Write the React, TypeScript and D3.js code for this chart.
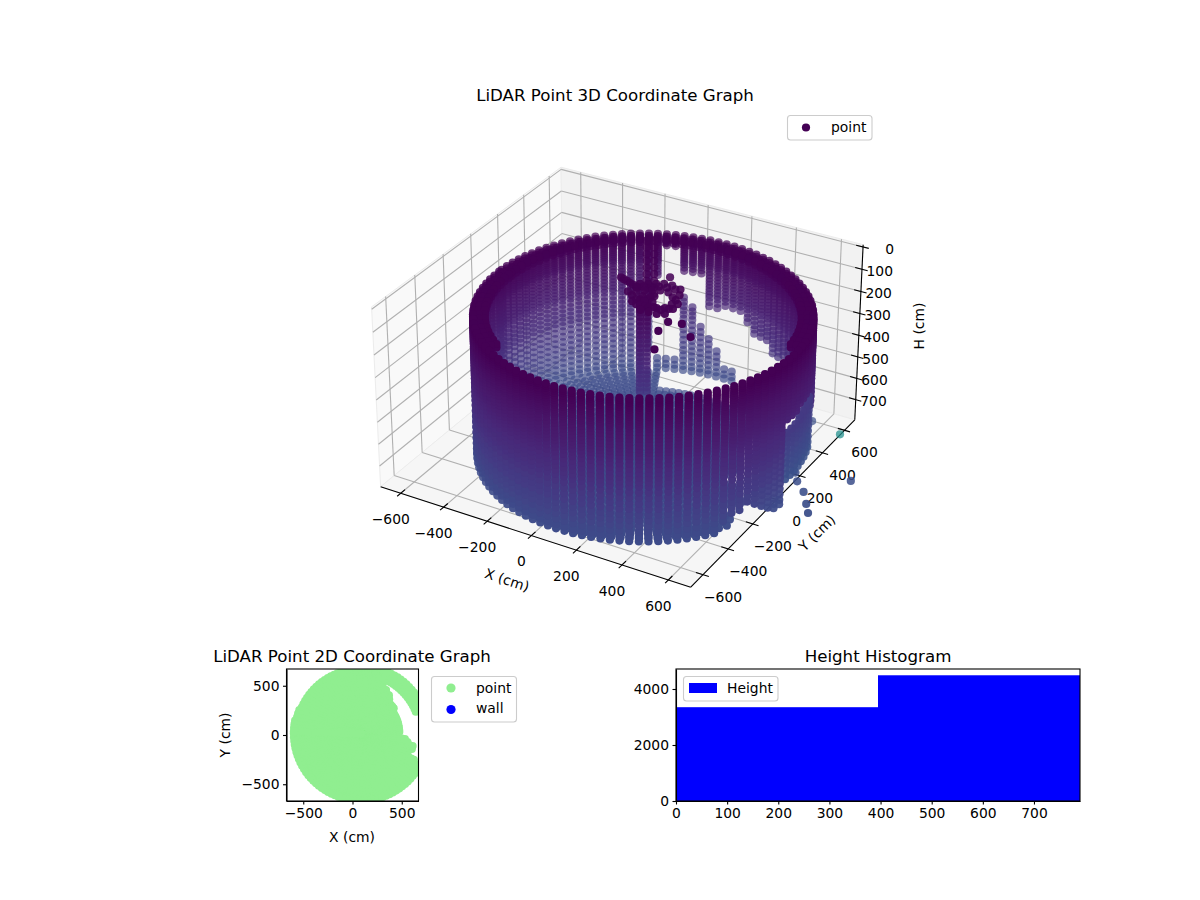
import { useEffect, useRef } from "react"
import * as d3 from "d3"

// scan columns of the wall, degrees round the scanner
const azimuths = [
  -180, -176.8, -173.6, -170.4, -167.2, -164, -160.8, -157.6, -154.4, -151.2,
  -148, -144.8, -141.6, -138.4, -135.2, -132, -128.8, -125.6, -122.4, -119.2,
  -116, -112.8, -109.6, -106.4, -103.2, -100, -96.8, -93.6, -90.4, -87.2,
  -84, -80.8, -77.6, -74.4, -71.2, -68, -64.8, -61.6, -58.4, -55.2,
  -52, -48.8, -45.6, -42.4, -39.2, -36, -32.8, -29.6, -26.4, -23.2,
  -20, -16.8, -13.6, -10.4, -7.2, -4, -0.8, 2.4, 5.6, 8.8,
  12, 15.2, 18.4, 21.6, 24.8, 28, 31.2, 34.4, 37.6, 40.8,
  44, 47.2, 50.4, 53.6, 56.8, 60, 63.2, 66.4, 69.6, 72.8,
  76, 79.2, 82.4, 85.6, 88.8, 92, 95.2, 98.4, 101.6, 104.8,
  108, 111.2, 114.4, 117.6, 120.8, 124, 127.2, 130.4, 133.6, 136.8,
  140, 143.2, 146.4, 149.6, 152.8, 156, 159.2, 162.4, 165.6, 168.8,
  172, 175.2, 178.4,
]

// scan rows bunch up near the top of the wall
const rowHeights = [
  135, 145, 155, 165, 175, 185, 195, 205, 215, 225, 235, 245, 255, 265, 280, 295, 310, 325, 340, 355, 370, 385, 400,
  420, 440, 460, 480, 500, 520, 545, 570, 595, 620, 645, 670, 695, 720, 745, 765,
]

// lowest height reached per column
const wallBottom = [
  765, 765, 765, 765, 765, 765, 765, 765, 765, 765,
  765, 765, 765, 765, 765, 765, 765, 765, 765, 765,
  765, 765, 765, 765, 765, 765, 765, 765, 765, 765,
  765, 765, 765, 765, 765, 765, 765, 765, 765, 765,
  765, 765, 765, 765, 765, 765, 740, 700, 695, 690,
  700, 720, 745, 765, 765, 690, 690, 690, 690, 690,
  690, 690, 690, 765, 765, 765, 765, 765, 765, 765,
  765, 765, 765, 765, 765, 765, 765, 765, 765, 765,
  765, 765, 765, 765, 765, 765, 765, 765, 765, 765,
  765, 765, 765, 765, 765, 765, 765, 765, 765, 765,
  765, 765, 765, 765, 765, 765, 765, 765, 765, 765,
  765, 765, 765,
]

// holes in each column: nothing between gapFrom and gapTo
const gapFrom = [
  999, 999, 999, 999, 999, 999, 999, 999, 999, 999,
  999, 999, 999, 999, 999, 999, 999, 999, 999, 999,
  999, 999, 999, 999, 999, 999, 999, 999, 999, 999,
  999, 999, 999, 999, 999, 999, 999, 999, 999, 999,
  999, 999, 999, 999, 999, 999, 999, 999, 999, 999,
  999, 999, 999, 999, 999, 410, 410, 410, 400, 400,
  400, 400, 400, 510, 510, 510, 510, 510, 510, 510,
  510, 540, 540, 540, 540, 540, 550, 550, 520, 520,
  520, 470, 440, 440, 440, 460, 460, 300, 300, 300,
  195, 195, 340, 680, 999, 999, 999, 999, 999, 999,
  999, 999, 999, 999, 999, 999, 999, 999, 999, 999,
  999, 999, 999,
]
const gapTo = [
  999, 999, 999, 999, 999, 999, 999, 999, 999, 999,
  999, 999, 999, 999, 999, 999, 999, 999, 999, 999,
  999, 999, 999, 999, 999, 999, 999, 999, 999, 999,
  999, 999, 999, 999, 999, 999, 999, 999, 999, 999,
  999, 999, 999, 999, 999, 999, 999, 999, 999, 999,
  999, 999, 999, 999, 999, 450, 450, 450, 440, 440,
  440, 440, 440, 999, 999, 999, 999, 999, 999, 999,
  999, 999, 999, 999, 999, 999, 999, 999, 999, 999,
  999, 999, 999, 720, 700, 640, 595, 530, 460, 420,
  700, 700, 720, 999, 999, 999, 999, 999, 999, 999,
  999, 999, 999, 999, 999, 999, 999, 999, 999, 999,
  999, 999, 999,
]

// thick ledge along the rim of the far half
const rimRadii = [615, 638]
const rimRows = [135, 150]

// mast, its ring and branch, stray returns inside the room
const ringX = [
  13.5, -1, 15.6, 47, 70, 101, 137, 154, 180, 191, 168, 133, 101, 63, 83, 51.5, 92.5, -98, -63, -27, 239, 292, 370, 298,
  241, 69, -6.5, 20.7, 48, 75.3, 110.5, 99.8, 135, 170, 197, 205, -16, 37, 173.6, 202, -80, -44.8, -8,
  11.4, 34.7, 62, 89.2, 124.5, 157.8, 182, 173.6, 146.5, 119, 80.4, 42.8, 78, 109.3,
]
const ringY = [
  53, 117, 136, 145, 167, 176, 178, 188, 104, 28, 6, 12, 3, -1, 75, 66, 90, 160, 145, 130, -63, -50, -123, -274, -143,
  257, 150.7, 166.5, 182, 198, 200, -33.4, -31, -29, -13.5, 36, 72.5, 12, 145.5, 79.5, 152, 137.8, 122,
  88.3, 110.7, 126.5, 142.2, 144.4, 118, 68, 27.3, 11.6, -4, 0.2, 34, 35.7, 44.6,
]
const mastX = [20.6, 44]
const mastY = [104, 118]
const mastRows = [140, 160, 180, 200, 220, 240, 260, 280, 300, 320, 340, 360, 380, 400, 420, 440, 460, 480, 500, 520, 540, 560]
const topMastX = [-66, -40]
const topMastY = [308, 323]
const topMastRows = [-4, 26, 56, 86, 116, 146, 176, 206, 236]

// returns from outside the wall
const strayX = [697, 890, 560, 772, 820, 855, 680, 715]
const strayY = [554, 258, 575, 79, 7, -47, 190, 136]
const strayH = [790, 790, 780, 780, 780, 780, 780, 780]
const strayC = [1500, 800, 800, 800, 800, 800, 800, 800]

// ground disc of the top view, how far it reaches per column
const floorRadii = [0, 30, 60, 90, 120, 150, 180, 210, 240, 270, 300, 330, 360, 390, 420, 450, 480, 510, 540, 570, 600, 630, 655, 668, 680]
const floorReach = [
  680, 680, 680, 680, 680, 680, 680, 680, 680, 680,
  680, 680, 680, 680, 680, 680, 680, 680, 680, 680,
  680, 680, 680, 680, 680, 680, 680, 680, 680, 680,
  680, 680, 680, 680, 680, 680, 680, 680, 680, 680,
  680, 680, 680, 680, 680, 680, 680, 680, 610, 520,
  530, 546, 540, 500, 460, 374, 385, 395, 400, 400,
  395, 392, 390, 391, 395, 400, 410, 415, 420, 425,
  430, 440, 460, 480, 495, 510, 525, 680, 680, 680,
  680, 680, 680, 680, 680, 670, 670, 670, 670, 670,
  660, 660, 660, 660, 660, 660, 660, 660, 660, 660,
  660, 660, 660, 660, 660, 660, 670, 670, 670, 680,
  680, 680, 680,
]
const FLOOR_HEIGHT = 770
const lobeRadii = [600, 640, 680]
const lobeAzimuths = [21.6, 24.8, 28, 31.2, 34.4, 37.6, 40.8, 44, 47.2, 50.4, 53.6, 56.8, 60, 63.2, 66.4]

const heightEdges = [0, 395, 790]
const heightCounts = [3350, 4490]

const xyTicks = [-600, -400, -200, 0, 200, 400, 600]
const hTicks = [0, 100, 200, 300, 400, 500, 600, 700]

const FONT = "'DejaVu Sans', sans-serif"
const WALL_CX = 85
const WALL_CY = 15
const WALL_R = 660

// same camera as the 3D axes: elev 30, azim -60, distance 10
const U = [0.866, 0.5, 0]
const V = [-0.25, 0.433, 0.866]
const W = [0.433, -0.75, 0.5]
const DIST = 10
const SCALE = 2835
const ORIGIN_X = 622.3
const ORIGIN_Y = 365.5

const boxX = d3.scaleLinear().domain([-695, 695]).range([-0.623, 0.623])
const boxY = d3.scaleLinear().domain([-695, 695]).range([-0.623, 0.623])
const boxZ = d3.scaleLinear().domain([796, -10]).range([-0.3613, 0.3613])

function project(x: number, y: number, h: number) {
  const p = [boxX(x), boxY(y), boxZ(h)]
  const dot = (a: number[]) => a[0] * p[0] + a[1] * p[1] + a[2] * p[2]
  const depth = DIST - dot(W)
  return { px: ORIGIN_X + (SCALE * dot(U)) / depth, py: ORIGIN_Y - (SCALE * dot(V)) / depth, depth }
}

const rad = (deg: number) => (deg * Math.PI) / 180
const polarX = (r: number, az: number) => WALL_CX + r * Math.cos(rad(az))
const polarY = (r: number, az: number) => WALL_CY + r * Math.sin(rad(az))

function scanPoints() {
  const pts: { x: number; y: number; h: number; c: number }[] = []
  azimuths.forEach((az, i) => {
    rowHeights.forEach((h) => {
      if (h > wallBottom[i]) return
      if (h >= gapFrom[i] && h < gapTo[i]) return
      // the low part under the side opening reads bluer
      const tint = gapTo[i] === 450 || gapTo[i] === 440 ? (h >= gapTo[i] ? 150 : 0) : 0
      pts.push({ x: polarX(WALL_R, az), y: polarY(WALL_R, az), h, c: h + tint })
    })
    if (az >= 5 || az <= -125) {
      rimRadii.forEach((r) => {
        rimRows.forEach((h) => pts.push({ x: polarX(r, az), y: polarY(r, az), h, c: h }))
      })
    }
    floorRadii.forEach((r) => {
      if (r > 640 || r > floorReach[i]) return
      if (az > 75 && az < 112 && r > 500) return
      pts.push({ x: polarX(r, az), y: polarY(r, az), h: FLOOR_HEIGHT, c: FLOOR_HEIGHT })
    })
  })
  ringX.forEach((x, i) => pts.push({ x, y: ringY[i], h: 100, c: 135 }))
  mastX.forEach((x, i) => {
    mastRows.forEach((h) => pts.push({ x, y: mastY[i], h, c: h }))
  })
  topMastX.forEach((x, i) => {
    topMastRows.forEach((h) => pts.push({ x, y: topMastY[i], h, c: 135 }))
  })
  strayX.forEach((x, i) => pts.push({ x, y: strayY[i], h: strayH[i], c: strayC[i] }))
  return pts
}

function legendBox(svg: any, x: number, y: number, w: number, h: number) {
  svg
    .append("rect")
    .attr("x", x)
    .attr("y", y)
    .attr("width", w)
    .attr("height", h)
    .attr("rx", 3)
    .attr("fill", "white")
    .attr("fill-opacity", 0.8)
    .attr("stroke", "#cccccc")
    .attr("stroke-width", 1.1)
}

function label(svg: any, x: number, y: number, text: string, size = 13.89, anchor = "middle", rotate = 0) {
  svg
    .append("text")
    .attr("transform", `translate(${x},${y}) rotate(${rotate})`)
    .attr("dy", "0.35em")
    .attr("text-anchor", anchor)
    .attr("font-family", FONT)
    .attr("font-size", size)
    .attr("fill", "black")
    .text(text)
}

function styleAxis(g: any) {
  g.selectAll("text").attr("font-family", FONT).attr("font-size", 13.89).attr("fill", "black")
  g.selectAll("line").attr("stroke", "black").attr("stroke-width", 1.1)
  g.selectAll("path").attr("stroke", "black").attr("stroke-width", 1.1)
}

function draw3D(svg: any) {
  const [xa, xb] = boxX.domain()
  const [ya, yb] = boxY.domain()
  const [zBottom, zTop] = boxZ.domain()

  const poly = (corners: number[][], fill: string) => {
    const ps = corners.map((c) => project(c[0], c[1], c[2]))
    svg
      .append("polygon")
      .attr("points", ps.map((p) => `${p.px},${p.py}`).join(" "))
      .attr("fill", fill)
      .attr("stroke", "#ececec")
      .attr("stroke-width", 1)
  }
  poly([[xa, ya, zBottom], [xa, yb, zBottom], [xa, yb, zTop], [xa, ya, zTop]], "#f9f9f9")
  poly([[xa, yb, zBottom], [xb, yb, zBottom], [xb, yb, zTop], [xa, yb, zTop]], "#f2f2f2")
  poly([[xa, ya, zBottom], [xb, ya, zBottom], [xb, yb, zBottom], [xa, yb, zBottom]], "#f6f6f6")

  const seg = (a: number[], b: number[], stroke: string, width = 1.1) => {
    const p = project(a[0], a[1], a[2])
    const q = project(b[0], b[1], b[2])
    svg
      .append("line")
      .attr("x1", p.px)
      .attr("y1", p.py)
      .attr("x2", q.px)
      .attr("y2", q.py)
      .attr("stroke", stroke)
      .attr("stroke-width", width)
  }

  // grid lines on the three panes
  xyTicks.forEach((t) => {
    seg([t, ya, zBottom], [t, yb, zBottom], "#b0b0b0")
    seg([t, yb, zBottom], [t, yb, zTop], "#b0b0b0")
    seg([xa, t, zBottom], [xb, t, zBottom], "#b0b0b0")
    seg([xa, t, zBottom], [xa, t, zTop], "#b0b0b0")
  })
  hTicks.forEach((t) => {
    seg([xa, ya, t], [xa, yb, t], "#b0b0b0")
    seg([xa, yb, t], [xb, yb, t], "#b0b0b0")
  })

  // axis lines, ticks, tick labels
  seg([xa, ya, zBottom], [xb, ya, zBottom], "black")
  seg([xb, ya, zBottom], [xb, yb, zBottom], "black")
  seg([xb, yb, zBottom], [xb, yb, zTop], "black")
  xyTicks.forEach((t) => {
    seg([t, ya - 25, zBottom], [t, ya + 30, zBottom], "black")
    const p = project(t, ya, zBottom)
    label(svg, p.px - 10, p.py + 26, d3.format("d")(t))
    seg([xb - 30, t, zBottom], [xb + 25, t, zBottom], "black")
    const q = project(xb, t, zBottom)
    label(svg, q.px + 20, q.py + 22, d3.format("d")(t))
  })
  hTicks.forEach((t) => {
    seg([xb - 30, yb, t], [xb + 25, yb, t], "black")
    const p = project(xb, yb, t)
    label(svg, p.px + 31, p.py + 2, String(t), 13.89, "end")
  })
  label(svg, 507, 580, "X (cm)", 13.89, "middle", 18)
  label(svg, 817, 533, "Y (cm)", 13.89, "middle", -45)
  label(svg, 919, 326, "H (cm)", 13.89, "middle", -90)
  label(svg, 615, 95, "LiDAR Point 3D Coordinate Graph", 16.67)

  // points far to near, fading with depth
  const color = d3.scaleSequential(d3.interpolateViridis).domain([135, 2900])
  const pts = scanPoints().map((d) => ({ ...d, ...project(d.x, d.y, d.h) }))
  const fade = d3.scaleLinear().domain([9.7, 10.4]).range([1, 0.68]).clamp(true)
  pts.sort((a, b) => b.depth - a.depth)
  svg
    .append("g")
    .selectAll("circle")
    .data(pts)
    .enter()
    .append("circle")
    .attr("cx", (d: any) => d.px)
    .attr("cy", (d: any) => d.py)
    .attr("r", 4.1)
    .attr("fill", (d: any) => color(d.c))
    .attr("fill-opacity", (d: any) => fade(d.depth))

  legendBox(svg, 787.5, 115.5, 84.5, 24.5)
  svg.append("circle").attr("cx", 806).attr("cy", 127.5).attr("r", 4.1).attr("fill", "#440154")
  label(svg, 831, 127, "point", 13.89, "start")
}

function draw2D(svg: any) {
  const left = 286.5
  const right = 418.5
  const top = 669
  const bottom = 801
  const x = d3.scaleLinear().domain([-670, 670]).range([left, right])
  const y = d3.scaleLinear().domain([-670, 670]).range([bottom, top])

  svg
    .append("clipPath")
    .attr("id", "clip-2d")
    .append("rect")
    .attr("x", left)
    .attr("y", top)
    .attr("width", right - left)
    .attr("height", bottom - top)

  const pts: { x: number; y: number }[] = []
  azimuths.forEach((az, i) => {
    floorRadii.forEach((r) => {
      if (r > floorReach[i]) return
      pts.push({ x: polarX(r, az), y: polarY(r, az) })
    })
  })
  lobeAzimuths.forEach((az) => {
    lobeRadii.forEach((r) => {
      pts.push({ x: polarX(r, az), y: polarY(r, az) })
    })
  })

  svg
    .append("g")
    .attr("clip-path", "url(#clip-2d)")
    .selectAll("circle")
    .data(pts)
    .enter()
    .append("circle")
    .attr("cx", (d: any) => x(d.x))
    .attr("cy", (d: any) => y(d.y))
    .attr("r", 4.1)
    .attr("fill", "lightgreen")

  svg
    .append("rect")
    .attr("x", left)
    .attr("y", top)
    .attr("width", right - left)
    .attr("height", bottom - top)
    .attr("fill", "none")
    .attr("stroke", "black")
    .attr("stroke-width", 1.1)

  svg
    .append("g")
    .attr("transform", `translate(0,${bottom})`)
    .call(d3.axisBottom(x).tickValues([-500, 0, 500]).tickSize(3.5).tickPadding(3.5).tickSizeOuter(0))
    .call(styleAxis)
  svg
    .append("g")
    .attr("transform", `translate(${left},0)`)
    .call(d3.axisLeft(y).tickValues([-500, 0, 500]).tickSize(3.5).tickPadding(3.5).tickSizeOuter(0))
    .call(styleAxis)

  label(svg, 352, 656, "LiDAR Point 2D Coordinate Graph", 16.67)
  label(svg, 352, 837, "X (cm)")
  label(svg, 225, 735, "Y (cm)", 13.89, "middle", -90)

  legendBox(svg, 431.5, 676.5, 85, 45.5)
  svg.append("circle").attr("cx", 451).attr("cy", 688).attr("r", 4.6).attr("fill", "lightgreen")
  svg.append("circle").attr("cx", 451).attr("cy", 709.5).attr("r", 4.6).attr("fill", "blue")
  label(svg, 476, 688, "point", 13.89, "start")
  label(svg, 476, 708, "wall", 13.89, "start")
}

function drawHistogram(svg: any) {
  const left = 676
  const right = 1080
  const top = 669
  const bottom = 801
  const x = d3.scaleLinear().domain([heightEdges[0], heightEdges[2]]).range([left, right])
  const y = d3.scaleLinear().domain([0, 4714]).range([bottom, top])

  svg
    .append("g")
    .selectAll("rect")
    .data(heightCounts)
    .enter()
    .append("rect")
    .attr("x", (_: number, i: number) => x(heightEdges[i]))
    .attr("y", (d: number) => y(d))
    .attr("width", (_: number, i: number) => x(heightEdges[i + 1]) - x(heightEdges[i]))
    .attr("height", (d: number) => bottom - y(d))
    .attr("fill", "blue")

  svg
    .append("rect")
    .attr("x", left)
    .attr("y", top)
    .attr("width", right - left)
    .attr("height", bottom - top)
    .attr("fill", "none")
    .attr("stroke", "black")
    .attr("stroke-width", 1.1)

  svg
    .append("g")
    .attr("transform", `translate(0,${bottom})`)
    .call(d3.axisBottom(x).tickValues(hTicks).tickSize(3.5).tickPadding(3.5).tickSizeOuter(0))
    .call(styleAxis)
  svg
    .append("g")
    .attr("transform", `translate(${left},0)`)
    .call(d3.axisLeft(y).tickValues([0, 2000, 4000]).tickFormat(d3.format("d")).tickSize(3.5).tickPadding(3.5).tickSizeOuter(0))
    .call(styleAxis)

  label(svg, 878, 656, "Height Histogram", 16.67)
  legendBox(svg, 683.5, 676.5, 94.5, 24.5)
  svg.append("rect").attr("x", 689).attr("y", 683).attr("width", 28).attr("height", 10).attr("fill", "blue")
  label(svg, 727, 688, "Height", 13.89, "start")
}

export default function App() {
  const svgRef = useRef<SVGSVGElement>(null)

  useEffect(() => {
    if (!svgRef.current) return
    const svg = d3.select(svgRef.current)
    svg.selectAll("*").remove()
    draw3D(svg)
    draw2D(svg)
    drawHistogram(svg)
  }, [])

  return (
    <svg
      ref={svgRef}
      width={1200}
      height={900}
      viewBox="0 0 1200 900"
      style={{ position: "absolute", left: 0, top: 0, background: "white" }}
    />
  )
}
